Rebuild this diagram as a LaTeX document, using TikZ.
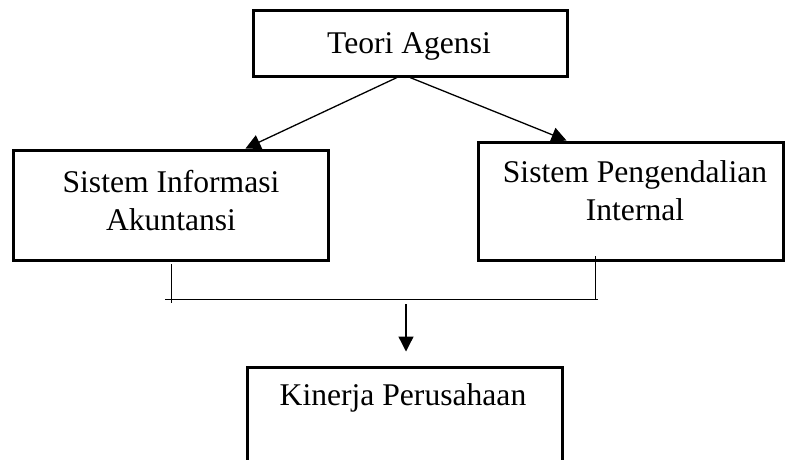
\documentclass[tikz,border=0pt]{standalone}
\usepackage{fontspec}
\setmainfont{Liberation Serif}
\usetikzlibrary{arrows.meta}

\tikzset{
    kotak/.style={draw, line width=3pt, rectangle, inner sep=0pt},
    teks/.style={font=\fontsize{31.6}{37.5}\selectfont, align=center, inner sep=0pt},
    panah/.style={line width=1.3pt, -{Triangle[length=15pt,width=15pt]}},
    garis/.style={line width=1pt}
}

\begin{document}
\begin{tikzpicture}[x=1pt,y=-1pt]
    % page size of the reference
    \useasboundingbox (0,0) rectangle (786,459);
    \clip (0,0) rectangle (786,459);

    % top box
    \node[kotak, minimum width=314pt, minimum height=66pt] (teori) at (410,43) {};
    \node[teks, anchor=base] (teoriTxt) at (409,53) {Teori Agensi};

    % left box (base = last line)
    \node[kotak, minimum width=315pt, minimum height=110pt] (sia) at (170.5,205) {};
    \node[teks, anchor=base] (siaTxt) at (171,230) {Sistem Informasi\\Akuntansi};

    % right box
    \node[kotak, minimum width=305pt, minimum height=118pt] (spi) at (630.5,201) {};
    \node[teks, anchor=base] (spiTxt) at (635,220) {Sistem Pengendalian\\Internal};

    % bottom box (runs off the page)
    \node[kotak, minimum width=315pt, minimum height=120pt] (kinerja) at (404.5,427) {};
    \node[teks, anchor=base] (kinerjaTxt) at (403,405) {Kinerja Perusahaan};

    % arrows from the top box
    \draw[panah] ([xshift=-13pt]teori.south) -- ([xshift=75pt]sia.north);
    \draw[panah] (teori.south) -- ([xshift=-64pt]spi.north);

    % joining lines below the two boxes
    \coordinate (kiriAtas) at (171,264);
    \coordinate (kiriBawah) at (171,303);
    \coordinate (kananAtas) at (595,256);
    \coordinate (kananBawah) at (595,299);
    \coordinate (gabungKiri) at (165,299);
    \coordinate (gabungKanan) at (598,299);
    \draw[garis] (kiriAtas) -- (kiriBawah);
    \draw[garis] (kananAtas) -- (kananBawah);
    \draw[garis] (gabungKiri) -- (gabungKanan);

    % arrow down to the bottom box
    \coordinate (turun) at (406,304);
    \draw[panah] (turun) -- ([yshift=14pt]kinerja.north -| turun);
\end{tikzpicture}
\end{document}
